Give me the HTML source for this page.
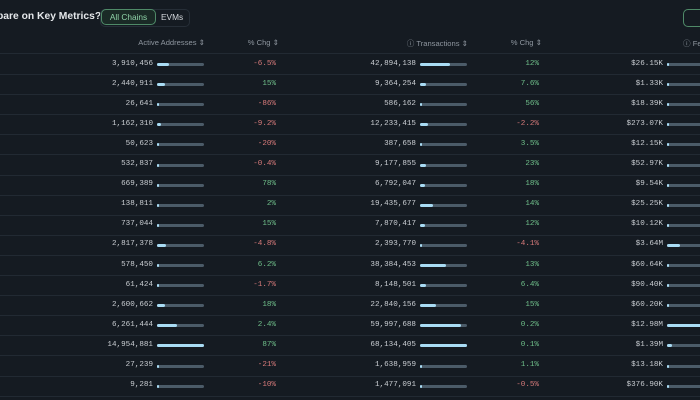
<!DOCTYPE html>
<html><head><meta charset="utf-8"><style>
html,body{margin:0;padding:0;width:700px;height:400px;overflow:hidden;background:#151b22;font-family:"Liberation Sans",sans-serif;}
.a{position:absolute;white-space:nowrap;}
.num{font-family:"Liberation Mono",monospace;font-size:7.6px;color:#c9cdd2;text-align:right;}
.pct{font-family:"Liberation Mono",monospace;font-size:7.6px;text-align:right;}
.g{color:#6fbf8a}.r{color:#d77a7a}
.track{height:3px;background:#4b5b68;border-radius:2px;}
.fill{position:absolute;left:0;top:0;height:3px;background:#a9dcf4;border-radius:2px;}
.hdr{font-size:7.6px;color:#8e969f;text-align:right;}
.line{position:absolute;left:0;width:700px;height:1px;background:#222a33;}
</style></head><body>
<div class="a" style="left:-3px;top:11px;font-size:10.3px;font-weight:bold;color:#e4e7ea;">pare on Key Metrics?</div>
<div class="a" style="left:100px;top:9px;width:88px;height:16px;border:1px solid #262e37;border-radius:5px;"></div>
<div class="a" style="left:101px;top:9px;width:53px;height:14px;border:1px solid #4f8a68;border-radius:5px;background:#1a2a26;color:#8fd3a8;font-size:8.3px;line-height:14px;text-align:center;">All Chains</div>
<div class="a" style="left:161px;top:10px;color:#d4d8dc;font-size:8.3px;line-height:14px;">EVMs</div>
<div class="a" style="left:683px;top:9px;width:20px;height:16px;border:1px solid #4f8a68;border-radius:5px;"></div>
<div class="a hdr" style="right:495px;top:38px;">Active Addresses ⇕</div>
<div class="a hdr" style="right:421px;top:38px;">% Chg ⇕</div>
<div class="a hdr" style="right:232px;top:38px;">ⓘ Transactions ⇕</div>
<div class="a hdr" style="right:158px;top:38px;">% Chg ⇕</div>
<div class="a hdr" style="left:683px;top:38px;text-align:left;">ⓘ Fe</div>
<div id="rows"></div>
<script>
var d=[
["3,910,456",3910456,"-6.5%","42,894,138",42894138,"12%","$26.15K",26150],
["2,440,911",2440911,"15%","9,364,254",9364254,"7.6%","$1.33K",1330],
["26,641",26641,"-86%","586,162",586162,"56%","$18.39K",18390],
["1,162,310",1162310,"-9.2%","12,233,415",12233415,"-2.2%","$273.07K",273070],
["50,623",50623,"-20%","387,658",387658,"3.5%","$12.15K",12150],
["532,837",532837,"-0.4%","9,177,855",9177855,"23%","$52.97K",52970],
["669,389",669389,"78%","6,792,047",6792047,"18%","$9.54K",9540],
["138,811",138811,"2%","19,435,677",19435677,"14%","$25.25K",25250],
["737,044",737044,"15%","7,870,417",7870417,"12%","$10.12K",10120],
["2,817,378",2817378,"-4.8%","2,393,770",2393770,"-4.1%","$3.64M",3640000],
["578,450",578450,"6.2%","38,384,453",38384453,"13%","$60.64K",60640],
["61,424",61424,"-1.7%","8,148,501",8148501,"6.4%","$90.40K",90400],
["2,600,662",2600662,"18%","22,840,156",22840156,"15%","$60.20K",60200],
["6,261,444",6261444,"2.4%","59,997,688",59997688,"0.2%","$12.98M",12980000],
["14,954,881",14954881,"87%","68,134,405",68134405,"0.1%","$1.39M",1390000],
["27,239",27239,"-21%","1,638,959",1638959,"1.1%","$13.18K",13180],
["9,281",9281,"-10%","1,477,091",1477091,"-0.5%","$376.90K",376900]];
var h='';
h+='<div class="line" style="top:53px"></div>';
d.forEach(function(r,i){
 var y=64.5+i*20.1, t=y-5;
 h+='<div class="line" style="top:'+Math.round(y+9.5)+'px"></div>';
 function bar(x,w,f){var fw=Math.max(2,Math.round(w*f));return '<div class="a track" style="left:'+x+'px;top:'+(y-1.5)+'px;width:'+w+'px"><div class="fill" style="width:'+fw+'px"></div></div>';}
 function pc(s,right){return '<div class="a pct '+(s[0]=='-'?'r':'g')+'" style="right:'+right+'px;top:'+t+'px">'+s+'</div>';}
 h+='<div class="a num" style="right:547px;top:'+t+'px">'+r[0]+'</div>'+bar(157,47,r[1]/14954881)+pc(r[2],424);
 h+='<div class="a num" style="right:284px;top:'+t+'px">'+r[3]+'</div>'+bar(420,47,r[4]/68134405)+pc(r[5],161);
 h+='<div class="a num" style="right:37px;top:'+t+'px">'+r[6]+'</div>'+bar(667,47,r[7]/12980000);
});
document.getElementById('rows').innerHTML=h;
</script>
</body></html>
